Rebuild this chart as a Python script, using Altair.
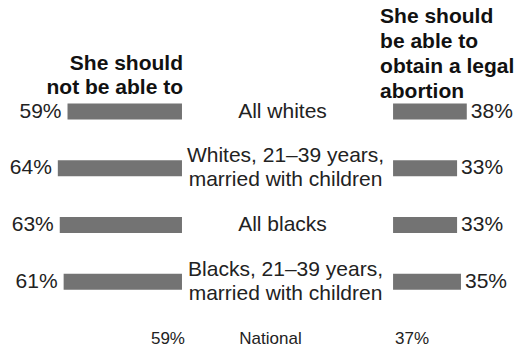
import altair as alt
import pandas as pd

groups = ["All whites", "Whites, 21\u201339 years,\nmarried with children", "All blacks",
          "Blacks, 21\u201339 years,\nmarried with children"]
should_not = [59, 64, 63, 61]
should = [38, 33, 33, 35]
national_label = "National"
national_not = 59
national_should = 37
left_header = "She should\nnot be able to"
right_header = "She should\nbe able to\nobtain a legal\nabortion"

GAP = 108.8  # gap between the two bar groups, in percentage units
FONT = "Liberation Sans"
INK = "#222222"
BAR = "#737373"

rows = groups + [national_label]
df = pd.DataFrame({
    "group": groups,
    "no": should_not,
    "yes": should,
})
df["no_start"] = -df["no"]
df["zero"] = 0
df["yes_start"] = GAP
df["yes_end"] = GAP + df["yes"]
df["mid"] = GAP / 2
df["no_lbl"] = df["no"].astype(str) + "%"
df["yes_lbl"] = df["yes"].astype(str) + "%"
df["nlines"] = df["group"].str.count("\n") + 1

nat = pd.DataFrame({
    "group": [national_label],
    "zero": [0],
    "gap": [GAP],
    "mid": [GAP / 2],
    "no_lbl": [f"{national_not}%"],
    "yes_lbl": [f"{national_should}%"],
})

xs = alt.Scale(domain=[-93.8, 173.2], range=[0, 518], nice=False, zero=False)
ys = alt.Scale(type="point", domain=rows, range=[111.5, 338.5], padding=0)
noax = None

base = alt.Chart(df)

y_enc = alt.Y("group:N", scale=ys, axis=noax, sort=rows)

left_bars = base.mark_bar(size=16, color=BAR).encode(
    x=alt.X("no_start:Q", scale=xs, axis=noax), x2="zero:Q", y=y_enc)
right_bars = base.mark_bar(size=16, color=BAR).encode(
    x=alt.X("yes_start:Q", scale=xs, axis=noax), x2="yes_end:Q", y=y_enc)

left_txt = base.mark_text(align="right", baseline="middle", dx=-6, fontSize=21,
                          font=FONT, color=INK).encode(
    x=alt.X("no_start:Q", scale=xs, axis=noax), y=y_enc, text="no_lbl:N")
right_txt = base.mark_text(align="left", baseline="middle", dx=4, fontSize=21,
                           font=FONT, color=INK).encode(
    x=alt.X("yes_end:Q", scale=xs, axis=noax), y=y_enc, text="yes_lbl:N")
grp_one = base.transform_filter("datum.nlines == 1").mark_text(
    align="center", baseline="middle", dx=-5, fontSize=21,
    font=FONT, color=INK).encode(
    x=alt.X("mid:Q", scale=xs, axis=noax), y=y_enc, text="group:N")
grp_two = base.transform_filter("datum.nlines == 2").mark_text(
    align="center", baseline="middle", dx=-2, dy=-12, fontSize=21,
    lineBreak="\n", lineHeight=24, font=FONT, color=INK).encode(
    x=alt.X("mid:Q", scale=xs, axis=noax), y=y_enc, text="group:N")

nb = alt.Chart(nat)
nat_left = nb.mark_text(align="right", baseline="middle", dx=3, fontSize=17,
                        font=FONT, color=INK).encode(
    x=alt.X("zero:Q", scale=xs, axis=noax), y=y_enc, text="no_lbl:N")
nat_right = nb.mark_text(align="left", baseline="middle", dx=2, fontSize=17,
                         font=FONT, color=INK).encode(
    x=alt.X("gap:Q", scale=xs, axis=noax), y=y_enc, text="yes_lbl:N")
nat_mid = nb.mark_text(align="center", baseline="middle", dx=-17, fontSize=17,
                       font=FONT, color=INK).encode(
    x=alt.X("mid:Q", scale=xs, axis=noax), y=y_enc, text="group:N")

hdr = pd.DataFrame({"txt": [left_header], "zero": [0]})
hdr_r = pd.DataFrame({"txt": [right_header], "gap": [GAP]})
left_hdr = alt.Chart(hdr).mark_text(align="right", baseline="middle", dx=1, fontSize=21,
                                    fontWeight="bold", lineBreak="\n", lineHeight=24,
                                    font=FONT, color="#111111").encode(
    x=alt.X("zero:Q", scale=xs, axis=noax), y=alt.value(64), text="txt:N")
right_hdr = alt.Chart(hdr_r).mark_text(align="left", baseline="middle", dx=-13, fontSize=21,
                                       fontWeight="bold", lineBreak="\n", lineHeight=25,
                                       font=FONT, color="#111111").encode(
    x=alt.X("gap:Q", scale=xs, axis=noax), y=alt.value(17), text="txt:N")

chart = alt.layer(left_bars, right_bars, left_txt, right_txt, grp_one, grp_two,
                  nat_left, nat_right, nat_mid, left_hdr, right_hdr).properties(
    width=518, height=352, autosize=alt.AutoSizeParams(type="none"), padding=0,
    background="white"
).configure_view(stroke=None)

chart.save("out.html", embed_options={"renderer": "svg", "actions": False})
